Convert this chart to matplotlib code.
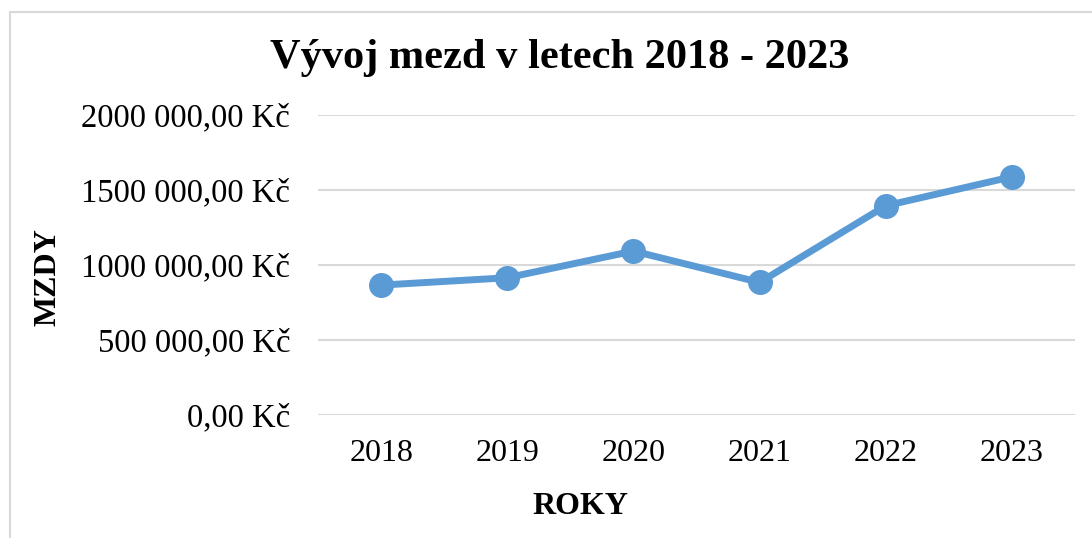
import matplotlib.pyplot as plt
from matplotlib.patches import Rectangle

years = ["2018", "2019", "2020", "2021", "2022", "2023"]
wages = [866000, 915000, 1093000, 884000, 1395000, 1588000]
y_ticks = [0, 500000, 1000000, 1500000, 2000000]
y_tick_labels = ["0,00 Kč", "500 000,00 Kč", "1000 000,00 Kč", "1500 000,00 Kč", "2000 000,00 Kč"]

plt.rcParams['font.family'] = ['Liberation Serif', 'DejaVu Serif']

fig = plt.figure(figsize=(10.92, 5.38), dpi=100)
ax = fig.add_axes([318 / 1092, 1 - 415 / 538, (1075 - 318) / 1092, 300 / 538])

x = range(len(years))
ax.plot(x, wages, color="#5B9BD5", linewidth=5, marker="o", markersize=17,
        solid_capstyle="round", zorder=3)

ax.set_xlim(-0.5, len(years) - 0.5)
ax.set_ylim(0, 2000000)
ax.set_xticks(list(x))
ax.set_xticklabels(years, fontsize=23)
ax.set_yticks(y_ticks)
ax.set_yticklabels(y_tick_labels, fontsize=23.5)
ax.tick_params(axis="y", length=0, pad=20)
ax.tick_params(axis="x", length=0, pad=17)
ax.grid(axis="y", color="#D9D9D9", linewidth=1.5)
ax.set_axisbelow(True)
for s in ax.spines.values():
    s.set_visible(False)

fig.text(560 / 1092, 1 - 58 / 538, "Vývoj mezd v letech 2018 - 2023",
         fontsize=30.5, fontweight="bold", ha="center", va="center")
fig.text(580 / 1092, 1 - 507 / 538, "ROKY", fontsize=23, fontweight="bold",
         ha="center", va="center")
fig.text(48 / 1092, 1 - 277 / 538, "MZDY", fontsize=23, fontweight="bold",
         ha="center", va="center", rotation=90)

# chart frame
fig.patches.append(Rectangle((10 / 1092, -0.1), 1.2, 1 - 12 / 538 + 0.1,
                             transform=fig.transFigure, fill=False,
                             edgecolor="#D9D9D9", linewidth=1.5))

fig.savefig("out.png", dpi=100)
